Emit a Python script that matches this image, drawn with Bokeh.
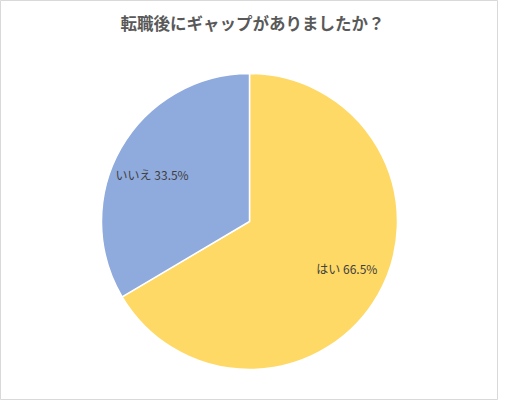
import math
from bokeh.plotting import figure
from bokeh.models import Range1d, ColumnDataSource
from bokeh.core.properties import value
from bokeh.embed import file_html
from bokeh.resources import INLINE

chart_title = "転職後にギャップがありましたか？"
categories = ["はい", "いいえ"]
percents = [66.5, 33.5]
colors = ["#FFD966", "#8FAADC"]

W, H = 498, 400
cx, cy, R = 249, 179, 148
label_r = 0.73 * R
label_rot = math.radians(4)

starts, ends, lx, ly, labels = [], [], [], [], []
a = math.pi / 2
for cat, v in zip(categories, percents):
    span = v / 100.0 * 2 * math.pi
    s, e = a - span, a
    starts.append(s)
    ends.append(e)
    m = (s + e) / 2 + label_rot
    lx.append(cx + label_r * math.cos(m))
    ly.append(cy + label_r * math.sin(m))
    labels.append(f"{cat} {v:.1f}%")
    a = s

src = ColumnDataSource(dict(start=starts, end=ends, color=colors,
                            lx=lx, ly=ly, label=labels))

p = figure(width=W, height=H, output_backend="svg", toolbar_location=None,
           x_range=Range1d(0, W), y_range=Range1d(0, H), min_border=0,
           tools="")
p.axis.visible = False
p.grid.visible = False
p.background_fill_color = "white"
p.border_fill_color = "white"
p.outline_line_color = "#D9D9D9"
p.outline_line_width = 1

p.wedge(x=cx, y=cy, radius=R, start_angle="start", end_angle="end",
        fill_color="color", line_color="white", line_width=1.5, source=src)

p.text(x="lx", y="ly", text="label", source=src,
       text_font=value("Noto Sans CJK JP"), text_font_size="12px",
       text_color="#404040", text_align="center", text_baseline="middle")

p.text(x=[W / 2 + 3], y=[H - 22], text=[chart_title],
       text_font=value("Noto Sans CJK JP"), text_font_size="16.5px",
       text_font_style="bold",
       text_color="#595959", text_align="center", text_baseline="middle")

open("out.html", "w").write(file_html(p, INLINE))
